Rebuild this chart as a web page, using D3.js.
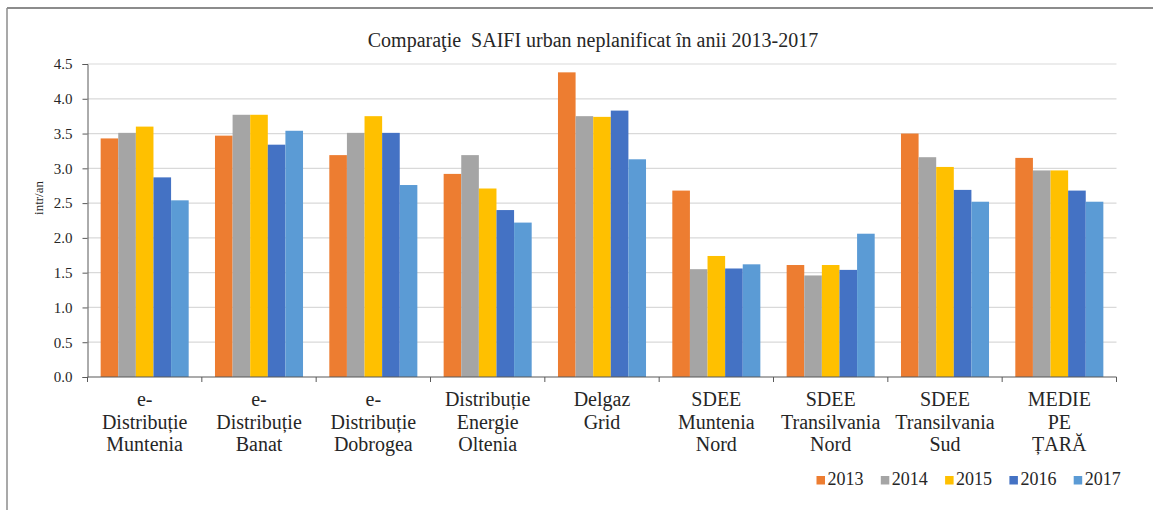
<!DOCTYPE html>
<html>
<head>
<meta charset="utf-8">
<script src="https://cdn.jsdelivr.net/npm/d3@7"></script>
<style>
    body { margin: 0; background: #fff; }
    svg text { font-family: "Liberation Serif", Tinos, "Times New Roman", "DejaVu Serif", serif !important; fill: #262626; }
</style>
</head>
<body>
<script>
// categories (multi-line labels)
const categories = [
    ["e-", "Distribuție", "Muntenia"],
    ["e-", "Distribuție", "Banat"],
    ["e-", "Distribuție", "Dobrogea"],
    ["Distribuție", "Energie", "Oltenia"],
    ["Delgaz", "Grid"],
    ["SDEE", "Muntenia", "Nord"],
    ["SDEE", "Transilvania", "Nord"],
    ["SDEE", "Transilvania", "Sud"],
    ["MEDIE", "PE", "ȚARĂ"]
];
const years = ["2013", "2014", "2015", "2016", "2017"];

// SAIFI values per year, one per category
const v2013 = [3.43, 3.47, 3.19, 2.92, 4.38, 2.68, 1.61, 3.50, 3.15];
const v2014 = [3.51, 3.77, 3.51, 3.19, 3.75, 1.55, 1.46, 3.16, 2.97];
const v2015 = [3.60, 3.77, 3.75, 2.71, 3.74, 1.74, 1.61, 3.02, 2.97];
const v2016 = [2.87, 3.34, 3.51, 2.40, 3.83, 1.56, 1.54, 2.69, 2.68];
const v2017 = [2.54, 3.54, 2.76, 2.22, 3.13, 1.62, 2.06, 2.52, 2.52];
const yTicks = [0, 0.5, 1, 1.5, 2, 2.5, 3, 3.5, 4, 4.5];

const colors = ["#ED7D31", "#A5A5A5", "#FFC000", "#4472C4", "#5B9BD5"];
const series = [v2013, v2014, v2015, v2016, v2017];

const W = 1153, H = 510;
const margin = { top: 64, right: 36.5, bottom: 133, left: 87.5 };

const svg = d3.select("body").append("svg")
    .attr("width", W)
    .attr("height", H);

// frame (top and left edges only visible)
svg.append("line").attr("x1", 7).attr("x2", W).attr("y1", 8).attr("y2", 8)
    .attr("stroke", "#8c8c8c").attr("stroke-width", 2);
svg.append("line").attr("x1", 7).attr("x2", 7).attr("y1", 8).attr("y2", H)
    .attr("stroke", "#8c8c8c").attr("stroke-width", 1.5);

// title
svg.append("text")
    .attr("x", 593).attr("y", 47)
    .attr("text-anchor", "middle")
    .style("font-size", "20px")
    .style("white-space", "pre")
    .attr("xml:space", "preserve")
    .text("Comparaţie  SAIFI urban neplanificat în anii 2013-2017");

const x0 = d3.scaleBand()
    .domain(d3.range(categories.length))
    .range([margin.left, W - margin.right]);

const x1 = d3.scaleBand()
    .domain(years)
    .range([x0.bandwidth() * 0.115, x0.bandwidth() * 0.885]);

const y = d3.scaleLinear()
    .domain([0, 4.5])
    .range([H - margin.bottom, margin.top]);

// gridlines
svg.append("g")
    .selectAll("line")
    .data(yTicks.slice(1))
    .join("line")
    .attr("x1", margin.left).attr("x2", W - margin.right)
    .attr("y1", d => y(d)).attr("y2", d => y(d))
    .attr("stroke", "#d9d9d9").attr("stroke-width", 1.2);

// bars
const groups = svg.append("g")
    .selectAll("g")
    .data(categories.map((c, i) => i))
    .join("g")
    .attr("transform", i => "translate(" + x0(i) + ",0)");

groups.selectAll("rect")
    .data(i => years.map((yr, k) => ({ yr: yr, k: k, v: series[k][i] })))
    .join("rect")
    .attr("x", d => x1(d.yr))
    .attr("width", x1.bandwidth())
    .attr("y", d => y(d.v))
    .attr("height", d => y(0) - y(d.v))
    .attr("fill", d => colors[d.k]);

// y axis
const yAxis = svg.append("g")
    .attr("transform", "translate(" + margin.left + ",0)")
    .call(d3.axisLeft(y).tickValues(yTicks).tickFormat(d3.format(".1f")).tickSizeOuter(0).tickSize(5).tickPadding(10));
yAxis.attr("font-family", null);
yAxis.select(".domain").attr("stroke", "#595959");
yAxis.selectAll(".tick line").attr("stroke", "#595959");
yAxis.selectAll("text").style("font-size", "15px").attr("fill", "#262626");

// x axis with boundary ticks
const xAxis = svg.append("g")
    .attr("transform", "translate(0," + y(0) + ")");
xAxis.append("line")
    .attr("x1", margin.left).attr("x2", W - margin.right)
    .attr("stroke", "#595959").attr("stroke-width", 1.2);
xAxis.selectAll(".bt")
    .data(d3.range(categories.length + 1))
    .join("line")
    .attr("class", "bt")
    .attr("x1", i => margin.left + i * x0.step())
    .attr("x2", i => margin.left + i * x0.step())
    .attr("y1", 0).attr("y2", 5)
    .attr("stroke", "#595959");

// category labels
const labels = svg.append("g")
    .selectAll("text")
    .data(categories)
    .join("text")
    .attr("x", (c, i) => x0(i) + x0.bandwidth() / 2)
    .attr("y", 406)
    .attr("text-anchor", "middle")
    .style("font-size", "20px");
labels.selectAll("tspan")
    .data(c => c)
    .join("tspan")
    .attr("x", function () { return d3.select(this.parentNode).attr("x"); })
    .attr("dy", (d, j) => j === 0 ? 0 : 22.5)
    .text(d => d);

// y axis title
svg.append("text")
    .attr("transform", "translate(43,198) rotate(-90)")
    .attr("text-anchor", "middle")
    .style("font-size", "13px")
    .text("intr/an");

// legend
const legend = svg.append("g")
    .selectAll("g")
    .data(years)
    .join("g")
    .attr("transform", (d, i) => "translate(" + (816.5 + i * 64.3) + ",476)");
legend.append("rect")
    .attr("width", 8.5).attr("height", 8.5)
    .attr("fill", (d, i) => colors[i]);
legend.append("text")
    .attr("x", 11).attr("y", 9)
    .style("font-size", "18px")
    .text(d => d);
</script>
</body>
</html>
